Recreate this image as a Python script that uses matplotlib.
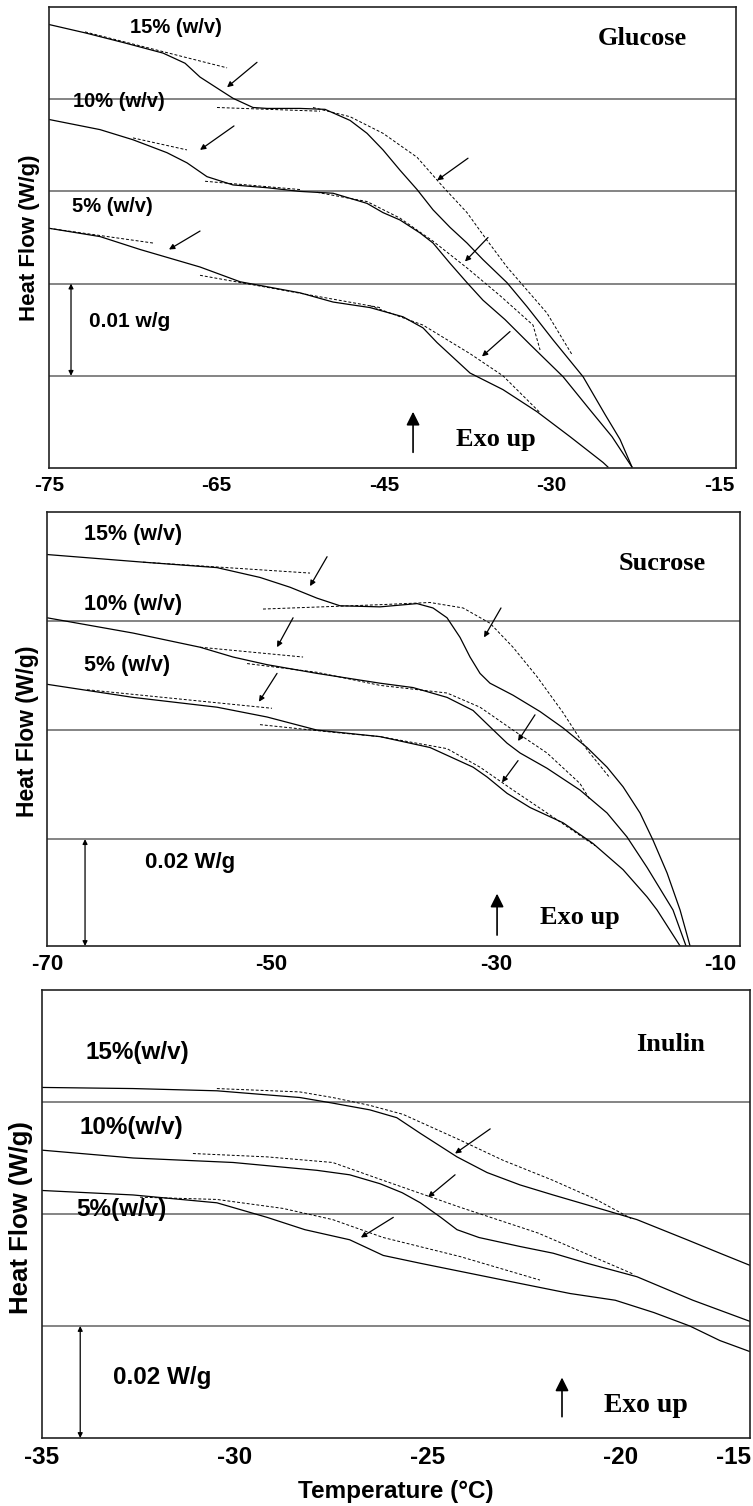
import numpy as np
import matplotlib.pyplot as plt

plt.rcParams['font.family'] = ['Liberation Sans', 'DejaVu Sans']

# ---------------- Glucose (1 grid step = 0.01 W/g) ----------------
glc_t15 = [-75, -71.78, -68.2, -64.79, -62.82, -61.48, -59.69, -58.53, -56.74, -55.48, -52.53, -50.29,
           -48.05, -46.53, -45.1, -43.58, -42.05, -40.62, -39.1, -37.58, -36.15, -34.0, -32.21, -31.04,
           -29.88, -27.19, -25.22, -23.88, -22.81]
glc_h15 = [3.81, 3.72, 3.61, 3.5, 3.39, 3.24, 3.1, 3.01, 2.91, 2.9, 2.9, 2.89,
           2.77, 2.63, 2.45, 2.23, 2.02, 1.8, 1.61, 1.44, 1.26, 1.01, 0.75, 0.57,
           0.39, -0.01, -0.42, -0.69, -0.99]
glc_t10 = [-75, -70.43, -67.48, -64.44, -62.65, -60.86, -58.53, -55.48, -52.53, -49.57, -46.53, -45.1,
           -43.58, -41.79, -40.62, -39.1, -37.58, -36.15, -34.18, -31.94, -28.98, -26.57, -24.6, -22.81]
glc_h10 = [2.78, 2.67, 2.56, 2.42, 2.31, 2.16, 2.07, 2.04, 2.0, 1.98, 1.87, 1.77,
           1.69, 1.55, 1.44, 1.22, 1.01, 0.82, 0.61, 0.34, -0.01, -0.37, -0.66, -0.99]
glc_t5 = [-75, -70.43, -66.85, -61.48, -57.9, -52.53, -49.57, -46.26, -43.31, -41.52, -40.26, -37.31,
          -34.36, -31.31, -28.36, -25.4, -24.96]
glc_h5 = [1.6, 1.51, 1.37, 1.18, 1.02, 0.9, 0.8, 0.74, 0.64, 0.52, 0.36, 0.03,
          -0.15, -0.39, -0.66, -0.94, -0.99]
glc_bases = [
    ([-71.78, -59.06], [3.73, 3.34]),
    ([-59.96, -50.74], [2.91, 2.87]),
    ([-51.37, -48.05, -45.1, -42.05, -39.73, -37.58, -35.79, -34.0, -32.21, -30.42, -28.98, -28.18],
     [2.91, 2.81, 2.63, 2.37, 2.05, 1.77, 1.47, 1.18, 0.93, 0.68, 0.39, 0.23]),
    ([-67.48, -62.65], [2.58, 2.45]),
    ([-61.03, -52.53], [2.11, 2.02]),
    ([-51.01, -46.53, -43.58, -40.62, -37.58, -34.63, -31.67, -31.04],
     [1.99, 1.89, 1.71, 1.46, 1.17, 0.87, 0.55, 0.28]),
    ([-75, -65.69], [1.6, 1.44]),
    ([-61.48, -45.37], [1.09, 0.74]),
    ([-46.26, -41.52, -37.31, -34.36, -31.04], [0.76, 0.55, 0.24, 0.0, -0.4]),
]
glc_arrows = [(-56.38, 3.40, -59.06, 3.13), (-58.44, 2.71, -61.48, 2.45), (-61.48, 1.57, -64.26, 1.37),
              (-37.49, 2.36, -40.26, 2.12), (-35.70, 1.50, -37.76, 1.24), (-33.73, 0.48, -36.24, 0.21)]
glc_ticks = [-75, -60, -45, -30, -15]
glc_ticklabels = ['-75', '-65', '-45', '-30', '-15']

# ---------------- Sucrose (1 grid step = 0.02 W/g) ----------------
suc_t15 = [-70, -61.44, -54.85, -51.02, -48.34, -45.94, -43.89, -40.32, -37.02, -35.6, -34.35, -33.19,
           -32.3, -31.41, -30.52, -28.47, -26.06, -24.01, -21.87, -20.09, -18.66, -17.15, -15.99, -14.74,
           -13.58, -12.69]
suc_h15 = [2.61, 2.54, 2.49, 2.4, 2.31, 2.21, 2.14, 2.13, 2.16, 2.12, 2.03, 1.85,
           1.67, 1.52, 1.43, 1.32, 1.17, 1.02, 0.84, 0.66, 0.48, 0.24, -0.01, -0.31,
           -0.65, -0.98]
suc_t10 = [-70, -62.34, -56.36, -53.42, -50.39, -45.94, -40.32, -37.38, -34.35, -32.03, -30.52, -29.0,
           -27.84, -25.44, -22.5, -20.09, -18.31, -16.52, -15.1, -14.21, -13.05]
suc_h10 = [2.03, 1.89, 1.76, 1.67, 1.6, 1.52, 1.43, 1.39, 1.3, 1.18, 1.03, 0.88,
           0.79, 0.65, 0.45, 0.24, 0.02, -0.26, -0.5, -0.65, -0.98]
suc_t5 = [-70, -62.34, -54.85, -50.39, -45.94, -40.32, -35.86, -32.03, -30.78, -29.0, -26.95, -24.01,
          -21.34, -18.66, -16.52, -15.63, -13.58]
suc_h5 = [1.42, 1.3, 1.21, 1.12, 1.0, 0.94, 0.84, 0.66, 0.57, 0.42, 0.29, 0.15,
          -0.04, -0.28, -0.53, -0.65, -0.98]
suc_bases = [
    ([-61.44, -46.56], [2.54, 2.44]),
    ([-50.75, -40.32, -35.86, -32.92, -30.52, -28.47, -26.33, -24.01, -21.87, -19.82],
     [2.11, 2.15, 2.17, 2.12, 1.98, 1.76, 1.49, 1.16, 0.82, 0.56]),
    ([-56.36, -47.18], [1.76, 1.67]),
    ([-52.17, -45.94, -40.32, -34.35, -31.41, -28.47, -25.44, -22.5, -21.6],
     [1.61, 1.53, 1.41, 1.34, 1.21, 1.0, 0.79, 0.51, 0.36]),
    ([-66.43, -49.95], [1.37, 1.2]),
    ([-51.02, -44.51, -40.32, -34.35, -31.41, -28.47, -25.44, -21.16],
     [1.05, 0.98, 0.94, 0.83, 0.66, 0.45, 0.24, -0.06]),
]
suc_arrows = [(-45.04, 2.59, -46.56, 2.32), (-48.07, 2.03, -49.50, 1.76), (-49.50, 1.52, -51.11, 1.26),
              (-29.54, 2.12, -31.05, 1.85), (-26.51, 1.14, -28.02, 0.90), (-28.02, 0.72, -29.45, 0.52)]
suc_ticks = [-70, -50, -30, -10]
suc_ticklabels = ['-70', '-50', '-30', '-10']

# ---------------- Inulin (1 grid step = 0.02 W/g) ----------------
inu_t15 = [-35, -32.64, -30.47, -28.32, -27.47, -26.51, -25.81, -25.20, -24.25, -23.47, -22.62, -21.76,
           -20.47, -19.59, -18.29, -17.44, -16.65]
inu_h15 = [2.13, 2.12, 2.1, 2.04, 1.99, 1.93, 1.86, 1.72, 1.51, 1.37, 1.26, 1.17,
           1.04, 0.95, 0.77, 0.65, 0.54]
inu_t10 = [-35, -32.64, -30.05, -27.88, -27.03, -26.24, -25.67, -25.20, -24.67, -24.25, -23.68, -22.62,
           -21.76, -20.88, -19.59, -18.14, -16.65]
inu_h10 = [1.57, 1.5, 1.46, 1.39, 1.35, 1.27, 1.19, 1.1, 0.97, 0.86, 0.79, 0.71,
           0.65, 0.56, 0.44, 0.23, 0.04]
inu_t5 = [-35, -32.64, -30.47, -29.17, -28.19, -27.03, -26.16, -25.20, -23.91, -22.62, -21.32, -20.15,
          -19.15, -18.22, -17.44, -16.65]
inu_h5 = [1.21, 1.17, 1.1, 0.97, 0.86, 0.77, 0.63, 0.56, 0.47, 0.38, 0.29, 0.23,
          0.12, 0.0, -0.13, -0.23]
inu_bases = [
    ([-30.47, -28.32, -27.47, -26.51, -25.65, -24.17, -23.06, -21.76, -20.65, -19.74],
     [2.12, 2.09, 2.04, 1.97, 1.89, 1.66, 1.48, 1.3, 1.13, 0.96]),
    ([-31.09, -29.17, -27.47, -26.16, -24.17, -22.15, -19.66],
     [1.54, 1.51, 1.46, 1.3, 1.06, 0.83, 0.46]),
    ([-32.46, -30.47, -28.76, -27.47, -26.16, -24.17, -22.10],
     [1.15, 1.13, 1.05, 0.95, 0.79, 0.62, 0.41]),
]
inu_arrows = [(-23.39, 1.76, -24.30, 1.54), (-24.30, 1.35, -25.00, 1.15), (-25.90, 0.97, -26.74, 0.79)]
inu_ticks = [-35, -30, -25, -20, -17.1]
inu_ticklabels = ['-35', '-30', '-25', '-20', '-15']


def draw_panel(ax, curves, bases, arrows, grid_levels, ticks, ticklabels, fs):
    for t, h in curves:
        ax.plot(t, h, color='black', lw=0.9)
    for t, h in bases:
        ax.plot(t, h, color='black', lw=0.7, ls=(0, (3, 2)))
    for x0, y0, x1, y1 in arrows:
        ax.annotate('', xy=(x1, y1), xytext=(x0, y0),
                    arrowprops=dict(arrowstyle='-|>', color='black', lw=0.9, mutation_scale=8,
                                    shrinkA=0, shrinkB=0))
    ax.set_yticks(grid_levels)
    ax.yaxis.grid(True, color='#707070', lw=1.2)
    ax.tick_params(axis='y', left=False, labelleft=False)
    ax.set_xticks(ticks)
    ax.set_xticklabels(ticklabels, fontsize=fs, fontweight='bold')
    ax.tick_params(axis='x', length=0, pad=6)
    for sp in ax.spines.values():
        sp.set_linewidth(1.2)
        sp.set_color('#222222')


def scale_bar(ax, x, y0, y1, text, tx, ty, fs):
    ax.annotate('', xy=(x, y1), xytext=(x, y0),
                arrowprops=dict(arrowstyle='<|-|>', color='black', lw=0.9, mutation_scale=7,
                                shrinkA=0, shrinkB=0))
    ax.text(tx, ty, text, fontsize=fs, fontweight='bold', ha='center', va='center')


def exo_up(ax, x, y0, y1, tx, ty, fs):
    ax.annotate('', xy=(x, y1), xytext=(x, y0),
                arrowprops=dict(arrowstyle='-|>', color='black', lw=1.2, mutation_scale=20,
                                shrinkA=0, shrinkB=0))
    ax.text(tx, ty, 'Exo up', fontsize=fs, fontweight='bold', ha='center', va='center',
            family='Liberation Serif')


W, H = 753, 1506
fig = plt.figure(figsize=(W / 100, H / 100), dpi=100)


def px_axes(left, top, right, bottom):
    return fig.add_axes([left / W, 1 - bottom / H, (right - left) / W, (bottom - top) / H])


# Glucose
ax1 = px_axes(49, 7, 736, 468)
draw_panel(ax1, [(glc_t15, glc_h15), (glc_t10, glc_h10), (glc_t5, glc_h5)], glc_bases, glc_arrows,
           [0, 1, 2, 3], glc_ticks, glc_ticklabels, 15)
ax1.set_xlim(-75, -13.5)
ax1.set_ylim(-1.0, 4.0)
for txt, x, y in [('15% (w/v)', -63.63, 3.78), ('10% (w/v)', -68.73, 2.98), ('5% (w/v)', -69.36, 1.84)]:
    ax1.text(x, y, txt, fontsize=14.5, fontweight='bold', ha='center', va='center')
ax1.text(-21.9, 3.66, 'Glucose', fontsize=19, fontweight='bold', ha='center', va='center',
         family='Liberation Serif')
scale_bar(ax1, -73.03, 0, 1, '0.01 w/g', -67.75, 0.585, 15)
exo_up(ax1, -42.41, -0.83, -0.39, -34.98, -0.69, 19)

# Sucrose
ax2 = px_axes(47, 512, 740, 946)
draw_panel(ax2, [(suc_t15, suc_h15), (suc_t10, suc_h10), (suc_t5, suc_h5)], suc_bases, suc_arrows,
           [0, 1, 2], suc_ticks, suc_ticklabels, 16)
ax2.set_xlim(-70, -8.24)
ax2.set_ylim(-0.98, 3.0)
for txt, x, y in [('15% (w/v)', -62.34, 2.79), ('10% (w/v)', -62.34, 2.15), ('5% (w/v)', -62.87, 1.59)]:
    ax2.text(x, y, txt, fontsize=15.5, fontweight='bold', ha='center', va='center')
ax2.text(-15.19, 2.53, 'Sucrose', fontsize=19, fontweight='bold', ha='center', va='center',
         family='Liberation Serif')
scale_bar(ax2, -66.61, 0, -0.98, '0.02 W/g', -57.25, -0.21, 16)
exo_up(ax2, -29.89, -0.88, -0.50, -22.5, -0.72, 19)

# Inulin
ax3 = px_axes(42, 990, 750, 1438)
draw_panel(ax3, [(inu_t15, inu_h15), (inu_t10, inu_h10), (inu_t5, inu_h5)], inu_bases, inu_arrows,
           [0, 1, 2], inu_ticks, inu_ticklabels, 17.5)
ax3.set_xlim(-35, -16.66)
ax3.set_ylim(-1.0, 3.0)
for txt, x, y in [('15%(w/v)', -32.54, 2.44), ('10%(w/v)', -32.69, 1.77), ('5%(w/v)', -32.93, 1.04)]:
    ax3.text(x, y, txt, fontsize=17.5, fontweight='bold', ha='center', va='center')
ax3.text(-18.73, 2.51, 'Inulin', fontsize=19, fontweight='bold', ha='center', va='center',
         family='Liberation Serif')
scale_bar(ax3, -34.01, 0, -1.0, '0.02 W/g', -31.89, -0.46, 17.5)
exo_up(ax3, -21.53, -0.81, -0.46, -19.36, -0.71, 20)
ax3.set_xlabel('Temperature (\u00b0C)', fontsize=17.5, fontweight='bold', labelpad=8)

# y labels
fig.text(30 / W, 1 - 238 / H, 'Heat Flow (W/g)', rotation=90, fontsize=16, fontweight='bold',
         ha='center', va='center')
fig.text(28 / W, 1 - 731 / H, 'Heat Flow (W/g)', rotation=90, fontsize=16.5, fontweight='bold',
         ha='center', va='center')
fig.text(21 / W, 1 - 1218 / H, 'Heat Flow (W/g)', rotation=90, fontsize=18.5, fontweight='bold',
         ha='center', va='center')

fig.savefig('out.png', dpi=100)
